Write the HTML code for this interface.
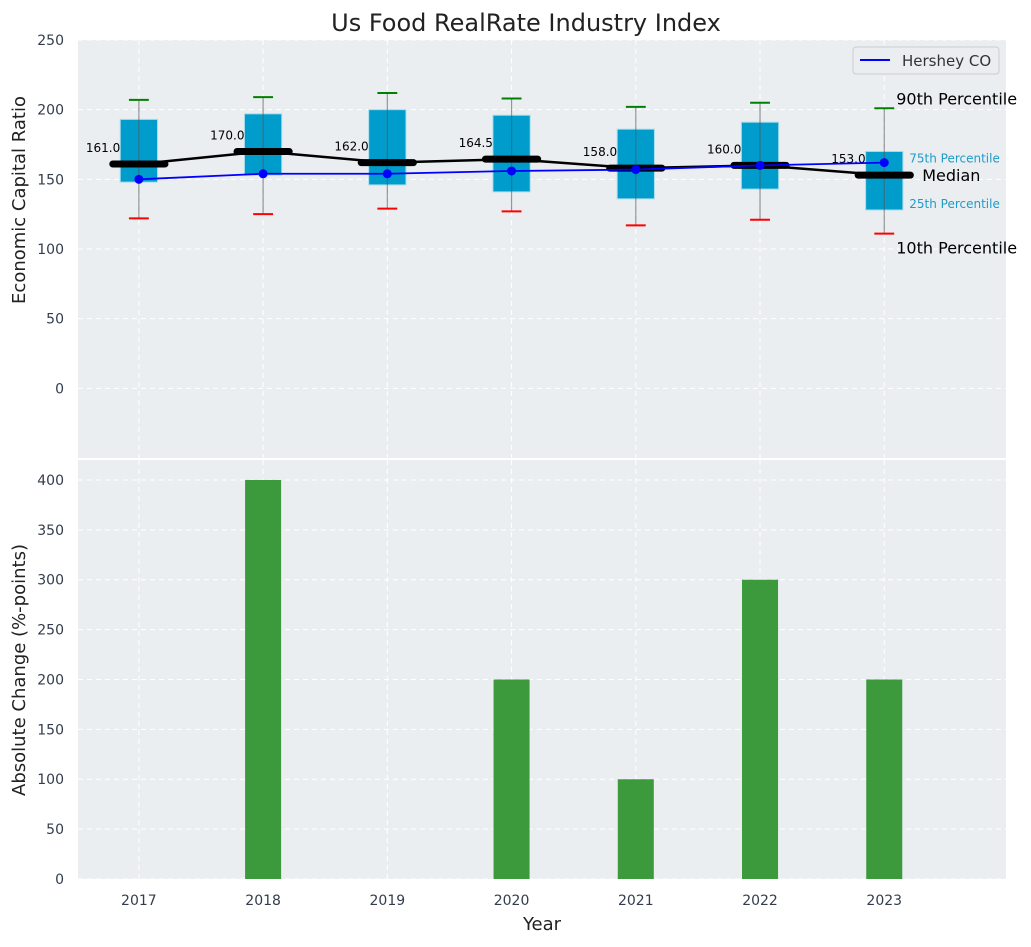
<!DOCTYPE html>
<html><head><meta charset="utf-8"><style>
html,body{margin:0;padding:0;background:#fff;}
svg text{font-family:"DejaVu Sans","Liberation Sans",sans-serif;}
</style></head><body>
<svg id="c" width="1031" height="942" xmlns="http://www.w3.org/2000/svg"></svg>
<script>
const years=[2017,2018,2019,2020,2021,2022,2023];
const q1=[148,153,146,141,136,143,128];
const q3=[193,197,200,196,186,191,170];
const medians=[161,170,162,164.5,158,160,153];
const p10=[122,125,129,127,117,121,111];
const p90=[207,209,212,208,202,205,201];
const hershey=[150,154,154,156,157,160,162];
const changes=[0,400,0,200,100,300,200];
const topTicks=[0,50,100,150,200,250];
const botTicks=[0,50,100,150,200,250,300,350,400];

const NS="http://www.w3.org/2000/svg";
const svg=document.getElementById('c');
function mk(tag,attrs,parent){const e=document.createElementNS(NS,tag);for(const k in attrs)e.setAttribute(k,attrs[k]);(parent||svg).appendChild(e);return e;}
const L=78,R=1006;
const x=v=>L+(v-2016.51)/(2023.98-2016.51)*(R-L);
const T={t:40,b:458,min:-50,max:250};
const B={t:460,b:879,min:0,max:420};
const yT=v=>T.b-(v-T.min)/(T.max-T.min)*(T.b-T.t);
const yB=v=>B.b-(v-B.min)/(B.max-B.min)*(B.b-B.t);

let e=mk('rect',{x:L,y:T.t,width:R-L,height:T.b-T.t,fill:'#eaeef0'});

e=mk('rect',{x:L,y:B.t,width:R-L,height:B.b-B.t,fill:'#eaeef0'});


years.forEach(yr=>{
  mk('line',{x1:x(yr),x2:x(yr),y1:T.t,y2:T.b,stroke:'#fff','stroke-dasharray':'5,4','stroke-width':1});
  mk('line',{x1:x(yr),x2:x(yr),y1:B.t,y2:B.b,stroke:'#fff','stroke-dasharray':'5,4','stroke-width':1});
});
topTicks.forEach(t=>{
  mk('line',{x1:L,x2:R,y1:yT(t),y2:yT(t),stroke:'#fff','stroke-dasharray':'5,4'});
  e=mk('text',{x:L-14,y:yT(t)+5,'text-anchor':'end','font-size':14,fill:'#333d4d'});e.textContent=t;
  
});
botTicks.forEach(t=>{
  mk('line',{x1:L,x2:R,y1:yB(t),y2:yB(t),stroke:'#fff','stroke-dasharray':'5,4'});
  e=mk('text',{x:L-14,y:yB(t)+5,'text-anchor':'end','font-size':14,fill:'#333d4d'});e.textContent=t;
  
});
years.forEach(yr=>{
  e=mk('text',{x:x(yr),y:905,'text-anchor':'middle','font-size':14,fill:'#333d4d'});e.textContent=yr;
  
});

const bw=0.3, cw=0.16, mw=0.42;
years.forEach((yr,i)=>{
  const g=mk('g',{});
  mk('rect',{x:x(yr-bw/2),y:yT(q3[i]),width:x(yr+bw/2)-x(yr-bw/2),height:yT(q1[i])-yT(q3[i]),fill:'#009ccc',stroke:'#a8dcec','stroke-width':1},g);
  mk('line',{x1:x(yr),x2:x(yr),y1:yT(p90[i]),y2:yT(p10[i]),stroke:'#555','stroke-opacity':0.6,'stroke-width':1.2},g);
  mk('line',{x1:x(yr-cw/2),x2:x(yr+cw/2),y1:yT(p90[i]),y2:yT(p90[i]),stroke:'green','stroke-width':2},g);
  mk('line',{x1:x(yr-cw/2),x2:x(yr+cw/2),y1:yT(p10[i]),y2:yT(p10[i]),stroke:'red','stroke-width':2},g);
  const t=mk('text',{x:x(yr-bw/2),y:yT(medians[i])-12,'text-anchor':'end','font-size':12,fill:'#000'},g);
  t.textContent=medians[i].toFixed(1);
});
let pts=years.map((yr,i)=>x(yr)+','+yT(medians[i])).join(' ');
e=mk('polyline',{points:pts,fill:'none',stroke:'#000','stroke-width':2.5});

years.forEach((yr,i)=>{
  e=mk('line',{x1:x(yr-mw/2),x2:x(yr+mw/2),y1:yT(medians[i]),y2:yT(medians[i]),stroke:'#000','stroke-width':7,'stroke-linecap':'round'});
  
});
pts=years.map((yr,i)=>x(yr)+','+yT(hershey[i])).join(' ');
e=mk('polyline',{points:pts,fill:'none',stroke:'blue','stroke-width':1.8});

years.forEach((yr,i)=>{
  e=mk('circle',{cx:x(yr),cy:yT(hershey[i]),r:4.5,fill:'blue'});
  
});
const li=years.length-1, lx=x(years[li]);
function ann(txt,xx,yy,size,col,name){const t=mk('text',{x:xx,y:yy,'font-size':size,fill:col});t.textContent=txt;}
ann('90th Percentile',lx+12,yT(p90[li])-4,16,'#000','p90-annotation');
ann('10th Percentile',lx+12,yT(p10[li])+20,16,'#000','p10-annotation');
ann('75th Percentile',lx+25,yT(q3[li])+11,12,'#1e9cc8','p75-annotation');
ann('25th Percentile',lx+25,yT(q1[li])-2,12,'#1e9cc8','p25-annotation');
ann('Median',lx+38,yT(medians[li])+6,16,'#000','median-annotation');

const barW=0.29;
years.forEach((yr,i)=>{
  if(changes[i]<=0)return;
  e=mk('rect',{x:x(yr-barW/2),y:yB(changes[i]),width:x(yr+barW/2)-x(yr-barW/2),height:yB(0)-yB(changes[i]),fill:'#3c9a3c'});
  
});

const lg=mk('g',{});
mk('rect',{x:853,y:47,width:146,height:27,rx:3,fill:'#eaeef0',stroke:'#ccc'},lg);
mk('line',{x1:860,x2:890,y1:60,y2:60,stroke:'blue','stroke-width':2},lg);
e=mk('text',{x:902,y:66,'font-size':15,fill:'#333'},lg);e.textContent='Hershey CO';

ann('Us Food RealRate Industry Index',0,0,24,'#222','chart-title');
svg.lastChild.setAttribute('x',526);svg.lastChild.setAttribute('y',31);svg.lastChild.setAttribute('text-anchor','middle');
e=mk('text',{x:542,y:930,'text-anchor':'middle','font-size':18,fill:'#222'});e.textContent='Year';

e=mk('text',{x:25,y:200,'text-anchor':'middle','font-size':18,fill:'#222',transform:'rotate(-90 25 200)'});e.textContent='Economic Capital Ratio';

e=mk('text',{x:25,y:670,'text-anchor':'middle','font-size':18,fill:'#222',transform:'rotate(-90 25 670)'});e.textContent='Absolute Change (%-points)';

</script>
</body></html>
